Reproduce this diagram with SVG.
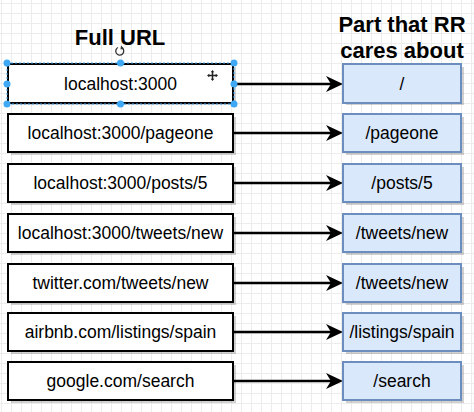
<svg xmlns="http://www.w3.org/2000/svg" width="474" height="412" viewBox="0 0 474 412">
<style>
.t{font-family:"Liberation Sans",Arial,Helvetica,sans-serif;font-size:17.5px;fill:#000;text-anchor:middle}
.h{font-family:"Liberation Sans",Arial,Helvetica,sans-serif;font-size:22px;font-weight:bold;fill:#000;text-anchor:middle}
.src{fill:#fff;stroke:#000;stroke-width:2}
.dst{fill:#dae8fc;stroke:#6c8ebf;stroke-width:2}
.sh{fill:#000;opacity:0.18}
.ln{stroke:#000;stroke-width:2.5;fill:none;marker-end:url(#ah)}
.hd{fill:#3fa9f5}
</style>
<defs>
<pattern id="grid" width="10" height="10" patternUnits="userSpaceOnUse" x="1" y="3">
<path d="M0 0.5 H10 M0.5 0 V10" stroke="#ececec" stroke-width="1" fill="none"/>
</pattern>
<marker id="ah" viewBox="0 0 17 16" refX="10" refY="8" markerWidth="17" markerHeight="16" markerUnits="userSpaceOnUse" orient="auto">
<path d="M0,0 L17,8 L0,16 L5,8 Z" fill="#000"/>
</marker>
</defs>
<rect width="474" height="412" fill="#fff"/>
<rect width="474" height="412" fill="url(#grid)"/>
<g id="titles">
<text class="h" x="120" y="45">Full URL</text>
<text class="h" x="402" y="32">Part that RR</text>
<text class="h" x="402" y="58">cares about</text>
</g>
<g id="connectors">
<path class="ln" d="M234 84 H336"/>
<path class="ln" d="M234 133 H336"/>
<path class="ln" d="M234 183 H336"/>
<path class="ln" d="M234 233 H336"/>
<path class="ln" d="M234 283 H336"/>
<path class="ln" d="M234 332 H336"/>
<path class="ln" d="M234 381 H336"/>
</g>
<g id="src1"><rect class="sh" x="11" y="67" width="225" height="38"/><rect class="src" x="8" y="64" width="225" height="39"/><text class="t" x="120.5" y="90">localhost:3000</text></g>
<g id="src2"><rect class="sh" x="11" y="117" width="225" height="38"/><rect class="src" x="8" y="114" width="225" height="38"/><text class="t" x="120.5" y="139">localhost:3000/pageone</text></g>
<g id="src3"><rect class="sh" x="11" y="167" width="225" height="38"/><rect class="src" x="8" y="164" width="225" height="38"/><text class="t" x="120.5" y="189">localhost:3000/posts/5</text></g>
<g id="src4"><rect class="sh" x="11" y="217" width="225" height="38"/><rect class="src" x="8" y="214" width="225" height="38"/><text class="t" x="120.5" y="239">localhost:3000/tweets/new</text></g>
<g id="src5"><rect class="sh" x="11" y="267" width="225" height="38"/><rect class="src" x="8" y="264" width="225" height="38"/><text class="t" x="120.5" y="289">twitter.com/tweets/new</text></g>
<g id="src6"><rect class="sh" x="11" y="316" width="225" height="38"/><rect class="src" x="8" y="313" width="225" height="38"/><text class="t" x="120.5" y="338">airbnb.com/listings/spain</text></g>
<g id="src7"><rect class="sh" x="11" y="365" width="225" height="38"/><rect class="src" x="8" y="362" width="225" height="38"/><text class="t" x="120.5" y="387">google.com/search</text></g>
<g id="dst1"><rect class="sh" x="346" y="67" width="118" height="38"/><rect class="dst" x="343" y="64" width="118" height="39"/><text class="t" x="402" y="90">/</text></g>
<g id="dst2"><rect class="sh" x="346" y="117" width="118" height="38"/><rect class="dst" x="343" y="114" width="118" height="38"/><text class="t" x="402" y="139">/pageone</text></g>
<g id="dst3"><rect class="sh" x="346" y="167" width="118" height="38"/><rect class="dst" x="343" y="164" width="118" height="38"/><text class="t" x="402" y="189">/posts/5</text></g>
<g id="dst4"><rect class="sh" x="346" y="217" width="118" height="38"/><rect class="dst" x="343" y="214" width="118" height="38"/><text class="t" x="402" y="239">/tweets/new</text></g>
<g id="dst5"><rect class="sh" x="346" y="267" width="118" height="38"/><rect class="dst" x="343" y="264" width="118" height="38"/><text class="t" x="402" y="289">/tweets/new</text></g>
<g id="dst6"><rect class="sh" x="346" y="316" width="118" height="38"/><rect class="dst" x="343" y="313" width="118" height="38"/><text class="t" x="402" y="338">/listings/spain</text></g>
<g id="dst7"><rect class="sh" x="346" y="365" width="118" height="38"/><rect class="dst" x="343" y="362" width="118" height="38"/><text class="t" x="402" y="387">/search</text></g>
<g id="selection">
<rect x="7" y="63" width="227" height="41" fill="none" stroke="#3fa9f5" stroke-width="1" stroke-dasharray="2 2"/>
<circle class="hd" cx="7" cy="63" r="3.5"/><circle class="hd" cx="120.5" cy="63" r="3.5"/><circle class="hd" cx="234" cy="63" r="3.5"/>
<circle class="hd" cx="7" cy="84" r="3.5"/><circle class="hd" cx="234" cy="84" r="3.5"/>
<circle class="hd" cx="7" cy="104" r="3.5"/><circle class="hd" cx="120.5" cy="104" r="3.5"/><circle class="hd" cx="234" cy="104" r="3.5"/>
<path d="M118 47.5 A4 4 0 1 0 122.5 48.2" fill="none" stroke="#333" stroke-width="1.3"/>
<path d="M121 45.5 L124 48.5 L120.5 49.5 Z" fill="#333"/>
<path d="M212.5 71 V80 M208 75.5 H217" stroke="#222" stroke-width="1.5"/>
<path d="M212.5 70 L210.8 72.3 H214.2 Z M212.5 81 L210.8 78.7 H214.2 Z M207 75.5 L209.3 73.8 V77.2 Z M218 75.5 L215.7 73.8 V77.2 Z" fill="#222"/>
</g>
</svg>
